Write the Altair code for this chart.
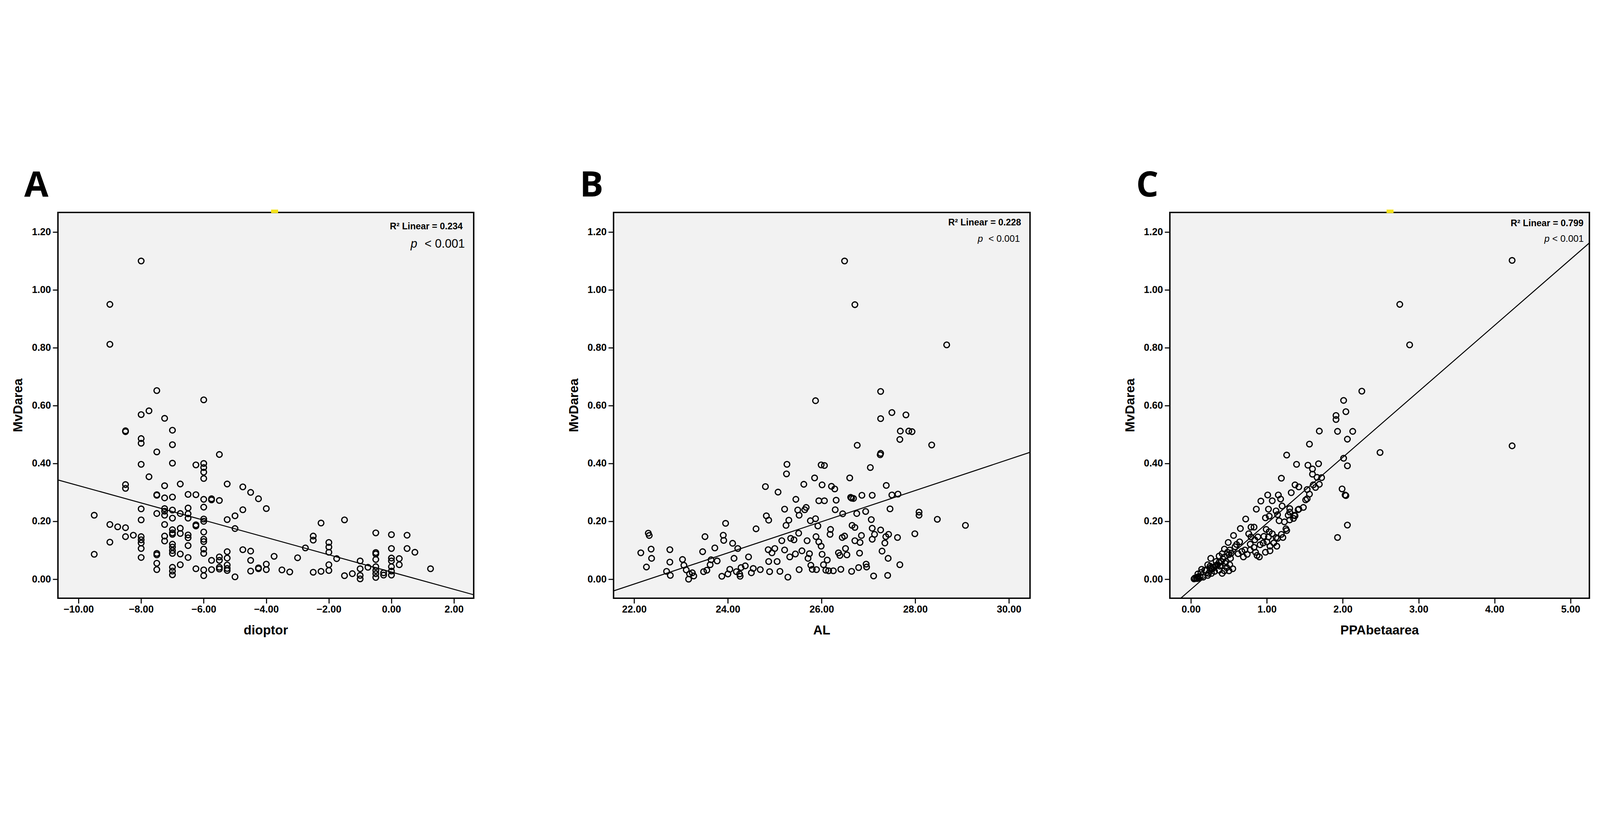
import altair as alt
import pandas as pd

# ---------------- data ----------------
# Panel A: dioptor vs MvDarea
a_dioptor = (
    [-9.5] * 2 + [-9.0] * 4 + [-8.75] + [-8.5] * 6 + [-8.25] + [-8.0] * 12 + [-7.75] * 2
    + [-7.5] * 9 + [-7.25] * 9 + [-7.0] * 16 + [-6.75] * 6 + [-6.5] * 8 + [-6.25] * 5
    + [-6.0] * 16 + [-5.75] * 4 + [-5.5] * 6 + [-5.25] * 7 + [-5.0] * 3 + [-4.75] * 3
    + [-4.5] * 4 + [-4.25] * 3 + [-4.0] * 3 + [-3.75] + [-3.5] + [-3.25] + [-3.0] + [-2.75]
    + [-2.5] * 3 + [-2.25] * 2 + [-2.0] * 5 + [-1.75] + [-1.5] * 2 + [-1.25] + [-1.0] * 4
    + [-0.75] + [-0.5] * 8 + [-0.25] * 2 + [0.0] * 7 + [0.25] * 2 + [0.5] * 2 + [0.75] + [1.25]
)
a_mvdarea = [
    0.221, 0.086,
    0.950, 0.812, 0.189, 0.128,
    0.181,
    0.513, 0.510, 0.327, 0.314, 0.178, 0.147,
    0.152,
    1.100, 0.569, 0.486, 0.470, 0.397, 0.243, 0.205, 0.147, 0.136, 0.125, 0.106, 0.075,
    0.582, 0.354,
    0.652, 0.440, 0.292, 0.290, 0.227, 0.089, 0.084, 0.055, 0.033,
    0.556, 0.323, 0.281, 0.244, 0.235, 0.221, 0.189, 0.149, 0.132,
    0.515, 0.465, 0.401, 0.284, 0.239, 0.211, 0.171, 0.160, 0.155, 0.121, 0.111, 0.099, 0.089, 0.041, 0.028, 0.015,
    0.329, 0.227, 0.176, 0.158, 0.087, 0.050,
    0.293, 0.246, 0.226, 0.211, 0.153, 0.143, 0.116, 0.075,
    0.395, 0.292, 0.188, 0.184, 0.036,
    0.620, 0.400, 0.386, 0.370, 0.348, 0.276, 0.249, 0.208, 0.200, 0.163, 0.138, 0.130, 0.104, 0.089, 0.032, 0.012,
    0.278, 0.274, 0.065, 0.033,
    0.431, 0.272, 0.077, 0.065, 0.041, 0.035,
    0.329, 0.206, 0.095, 0.073, 0.049, 0.037, 0.030,
    0.219, 0.175, 0.008,
    0.319, 0.240, 0.102,
    0.300, 0.097, 0.065, 0.028,
    0.278, 0.039, 0.036,
    0.244, 0.052, 0.033,
    0.079, 0.032, 0.025, 0.074, 0.108,
    0.149, 0.135, 0.024,
    0.194, 0.027,
    0.127, 0.111, 0.093, 0.050, 0.030,
    0.071,
    0.205, 0.012,
    0.019,
    0.063, 0.036, 0.013, 0.001,
    0.041,
    0.160, 0.092, 0.087, 0.068, 0.043, 0.030, 0.019, 0.006,
    0.022, 0.014,
    0.154, 0.106, 0.073, 0.063, 0.043, 0.028, 0.014,
    0.071, 0.050,
    0.152, 0.106,
    0.093,
    0.036,
]

# Panel B: AL vs MvDarea
b_al = [
    22.14, 22.26, 22.30, 22.32, 22.36, 22.37, 22.69, 22.76, 22.76, 22.77, 23.03, 23.06, 23.11, 23.16,
    23.18, 23.24, 23.27, 23.46, 23.48, 23.51, 23.55, 23.62, 23.64, 23.72, 23.77, 23.87, 23.90, 23.91,
    23.95, 24.00, 24.04, 24.10, 24.13, 24.18, 24.21, 24.25, 24.26, 24.28, 24.37, 24.44, 24.50, 24.54,
    24.60, 24.69, 24.80, 24.82, 24.86, 24.87, 24.87, 24.89, 24.94, 25.00, 25.05, 25.07, 25.11, 25.15,
    25.21, 25.21, 25.24, 25.26, 25.25, 25.28, 25.30, 25.32, 25.34, 25.41, 25.44, 25.45, 25.51, 25.49,
    25.52, 25.52, 25.58, 25.62, 25.64, 25.67, 25.69, 25.71, 25.74, 25.76, 25.77, 25.80, 25.85, 25.87,
    25.87, 25.88, 25.89, 25.92, 25.94, 25.94, 25.99, 25.99, 26.01, 26.01, 26.04, 26.06, 26.06, 26.09,
    26.12, 26.15, 26.18, 26.19, 26.21, 26.25, 26.28, 26.29, 26.31, 26.36, 26.39, 26.41, 26.44, 26.49,
    26.45, 26.49, 26.51, 26.54, 26.60, 26.62, 26.64, 26.64, 26.65, 26.68, 26.71, 26.71, 26.71, 26.75,
    26.76, 26.79, 26.81, 26.82, 26.85, 26.86, 26.94, 26.95, 26.96, 27.04, 27.06, 27.08, 27.08, 27.08,
    27.11, 27.13, 27.26, 27.25, 27.26, 27.26, 27.26, 27.29, 27.35, 27.37, 27.38, 27.42, 27.41, 27.43,
    27.46, 27.50, 27.63, 27.62, 27.67, 27.67, 27.50, 27.68, 27.80, 27.86, 27.93, 27.99, 28.08, 28.08,
    28.35, 28.47, 28.67, 29.07,
]
b_mvdarea = [
    0.091, 0.042, 0.159, 0.151, 0.104, 0.072, 0.027, 0.102, 0.059, 0.013, 0.068, 0.048, 0.032, 0.000,
    0.018, 0.022, 0.011, 0.095, 0.026, 0.147, 0.031, 0.050, 0.067, 0.108, 0.063, 0.010, 0.152, 0.134,
    0.193, 0.018, 0.034, 0.124, 0.072, 0.026, 0.106, 0.018, 0.010, 0.040, 0.046, 0.077, 0.022, 0.037,
    0.174, 0.033, 0.320, 0.219, 0.102, 0.204, 0.061, 0.026, 0.091, 0.106, 0.061, 0.301, 0.027, 0.133,
    0.101, 0.242, 0.186, 0.397, 0.364, 0.007, 0.204, 0.077, 0.141, 0.136, 0.087, 0.276, 0.159, 0.239,
    0.221, 0.033, 0.098, 0.328, 0.240, 0.248, 0.133, 0.072, 0.088, 0.202, 0.048, 0.034, 0.350, 0.209,
    0.617, 0.147, 0.033, 0.184, 0.129, 0.271, 0.114, 0.395, 0.326, 0.086, 0.050, 0.271, 0.393, 0.031,
    0.066, 0.029, 0.155, 0.172, 0.321, 0.029, 0.312, 0.240, 0.273, 0.091, 0.082, 0.034, 0.144, 1.100,
    0.226, 0.149, 0.106, 0.084, 0.350, 0.283, 0.280, 0.027, 0.186, 0.279, 0.949, 0.179, 0.133, 0.227,
    0.463, 0.040, 0.090, 0.127, 0.151, 0.290, 0.234, 0.052, 0.042, 0.386, 0.206, 0.290, 0.176, 0.138,
    0.011, 0.155, 0.435, 0.430, 0.649, 0.555, 0.170, 0.097, 0.125, 0.147, 0.324, 0.072, 0.013, 0.155,
    0.243, 0.291, 0.294, 0.144, 0.483, 0.050, 0.576, 0.512, 0.568, 0.512, 0.510, 0.157, 0.232, 0.221,
    0.464, 0.207, 0.810, 0.186,
]

# Panel C: PPAbetaarea vs MvDarea
c_ppa = [
    4.23, 2.75, 2.88, 4.23, 2.25, 2.01, 2.04, 1.91, 1.91, 1.93, 1.69, 2.13, 2.06, 2.49, 1.56, 1.26,
    2.01, 1.39, 1.54, 1.68, 2.06, 1.60, 1.60, 1.66, 1.61, 1.19, 1.37, 1.42, 1.53, 1.32, 1.99, 2.03,
    2.04, 1.01, 0.92, 1.07, 1.15, 1.18, 1.20, 1.41, 0.86, 1.02, 1.03, 1.12, 1.14, 1.30, 1.28, 1.36,
    1.37, 0.98, 1.16, 1.23, 1.25, 1.26, 1.19, 0.72, 0.65, 0.79, 0.83, 0.99, 1.03, 1.07, 1.12, 1.13,
    0.96, 1.02, 0.88, 0.91, 0.95, 1.00, 0.76, 0.79, 0.84, 0.78, 0.56, 0.64, 0.58, 0.51, 0.67, 0.71,
    0.78, 0.74, 0.85, 0.83, 1.93, 2.06, 0.49, 0.44, 0.48, 0.41, 0.37, 0.44, 0.52, 0.51, 0.46, 0.55,
    0.37, 0.33, 0.26, 0.33, 0.22, 0.26, 0.18, 0.14, 0.13, 0.09, 0.05, 0.04, 0.08, 0.16, 0.22, 0.27,
    0.31, 0.37, 0.41, 0.44, 0.50, 0.60, 0.62, 0.69, 0.87, 0.90, 0.98, 1.04, 1.04, 1.09, 1.14, 1.21,
    1.30, 1.35, 1.42, 1.48, 1.51, 1.53, 1.56, 1.64, 1.69, 1.72, 1.30,
    0.07, 0.09, 0.10, 0.12, 0.20, 0.23, 0.25, 0.28, 0.30, 0.35, 0.38, 0.40, 0.42, 0.45, 0.47, 0.50, 0.53,
]
c_mvdarea = [
    1.102, 0.950, 0.810, 0.461, 0.650, 0.618, 0.579, 0.566, 0.552, 0.511, 0.512, 0.511, 0.484, 0.438, 0.467, 0.429,
    0.418, 0.397, 0.394, 0.399, 0.392, 0.381, 0.363, 0.352, 0.326, 0.349, 0.326, 0.319, 0.278, 0.299, 0.312, 0.291,
    0.289, 0.291, 0.270, 0.271, 0.291, 0.277, 0.253, 0.240, 0.242, 0.242, 0.218, 0.236, 0.223, 0.244, 0.221, 0.221,
    0.219, 0.212, 0.202, 0.198, 0.174, 0.168, 0.155, 0.208, 0.175, 0.180, 0.180, 0.172, 0.164, 0.157, 0.144, 0.114,
    0.148, 0.146, 0.146, 0.119, 0.125, 0.129, 0.157, 0.146, 0.136, 0.121, 0.151, 0.129, 0.112, 0.101, 0.096, 0.101,
    0.101, 0.086, 0.093, 0.110, 0.144, 0.187, 0.127, 0.104, 0.093, 0.088, 0.080, 0.077, 0.072, 0.050, 0.061, 0.036,
    0.058, 0.061, 0.072, 0.048, 0.050, 0.040, 0.031, 0.034, 0.023, 0.018, 0.004, 0.001, 0.002, 0.007, 0.013, 0.020,
    0.027, 0.031, 0.020, 0.029, 0.029, 0.120, 0.088, 0.077, 0.082, 0.077, 0.093, 0.114, 0.098, 0.125, 0.141, 0.144,
    0.205, 0.210, 0.242, 0.248, 0.274, 0.310, 0.294, 0.317, 0.328, 0.351, 0.232,
    0.005, 0.008, 0.003, 0.010, 0.030, 0.020, 0.045, 0.035, 0.040, 0.050, 0.045, 0.060, 0.070, 0.055, 0.040, 0.085, 0.090,
]

# fitted lines (intercept, slope) and drawn x-extent
fit_a = (0.0246, -0.02987)
fit_b = (-1.2024, 0.05389)
fit_c = (-0.0351, 0.2282)
line_x_a = [-10.66, 2.63]
line_x_b = [21.558, 30.449]
line_x_c = [-0.135, 5.248]

y_ticks = [0.0, 0.2, 0.4, 0.6, 0.8, 1.0, 1.2]
a_ticks = [-10, -8, -6, -4, -2, 0, 2]
b_ticks = [22, 24, 26, 28, 30]
c_ticks = [0, 1, 2, 3, 4, 5]

panel_letters = ["A", "B", "C"]
x_titles = ["dioptor", "AL", "PPAbetaarea"]
y_title = "MvDarea"
r2_texts = ["R\u00b2 Linear = 0.234", "R\u00b2 Linear = 0.228", "R\u00b2 Linear = 0.799"]
p_text = "< 0.001"

# ---------------- chart building ----------------
Y_DOMAIN = [-0.066, 1.268]
H = 1647
FONT = "Liberation Sans"


def text_layer(txt, x, y, **kw):
    return alt.Chart(pd.DataFrame({"t": [txt]})).mark_text(color="black", **kw).encode(
        text="t:N", x=alt.value(x), y=alt.value(y))


def speck_layer(x0):
    # small yellow speck sitting on the top frame line (present in the source image)
    return alt.Chart(pd.DataFrame({"k": [1]})).mark_rect(color="#F4E21A").encode(
        x=alt.value(x0), x2=alt.value(x0 + 30), y=alt.value(-12), y2=alt.value(3))


def panel(xs, ys, xname, xdomain, xticks, fit, line_x, letter, r2, w, lay, speck=None):
    df = pd.DataFrame({"x": xs, "y": ys})
    xenc = alt.X("x:Q", title=None,
                 scale=alt.Scale(domain=xdomain, nice=False, zero=False),
                 axis=alt.Axis(values=xticks, format=".2f", labelPadding=6))
    yenc = alt.Y("y:Q", title=None,
                 scale=alt.Scale(domain=Y_DOMAIN, nice=False, zero=False),
                 axis=alt.Axis(values=y_ticks, format=".2f", labelPadding=8))
    pts = alt.Chart(df).mark_point(shape="circle", filled=False, color="black",
                                   size=580, strokeWidth=5.2, opacity=1).encode(x=xenc, y=yenc)
    b0, b1 = fit
    ldf = pd.DataFrame({"x": line_x, "y": [b0 + b1 * v for v in line_x]})
    line = alt.Chart(ldf).mark_line(color="black", strokeWidth=4.2).encode(x=xenc, y=yenc)

    letter_l = text_layer(letter, -144, -68, font="Open Sans", fontSize=150, fontWeight="bold",
                          align="left", baseline="alphabetic")
    xt_l = text_layer(xname, w / 2, H + 137, font=FONT, fontSize=55, fontWeight="bold",
                      align="center", baseline="middle")
    yt_l = text_layer(y_title, -169, H / 2, font=FONT, fontSize=55, fontWeight="bold",
                      align="center", baseline="middle", angle=270)
    r2_l = text_layer(r2, w - lay["r2dx"], lay["r2y"], font=FONT, fontSize=39, fontWeight="bold",
                      align="right", baseline="middle")
    p_l = text_layer("p", w - lay["pdx"], lay["py"], font=FONT, fontSize=lay["psize"],
                     fontStyle="italic", align="right", baseline="middle")
    lt_l = text_layer(p_text, w - lay["ltdx"], lay["py"], font=FONT, fontSize=lay["psize"],
                      align="right", baseline="middle")

    layers = [pts, line, letter_l, xt_l, yt_l, r2_l, p_l, lt_l]
    if speck is not None:
        layers.append(speck_layer(speck))
    return alt.layer(*layers).properties(width=w, height=H)


lay_a = dict(r2dx=47, r2y=60, psize=51, pdx=241, ltdx=38, py=135)
lay_b = dict(r2dx=38, r2y=44, psize=40, pdx=201, ltdx=43, py=113)
lay_c = dict(r2dx=25, r2y=47, psize=40, pdx=170, ltdx=24, py=113)

chart_a = panel(a_dioptor, a_mvdarea, x_titles[0], [-10.66, 2.63], a_ticks, fit_a, line_x_a,
                panel_letters[0], r2_texts[0], 1775, lay_a, speck=910)
chart_b = panel(b_al, b_mvdarea, x_titles[1], [21.558, 30.449], b_ticks, fit_b, line_x_b,
                panel_letters[1], r2_texts[1], 1778, lay_b)
chart_c = panel(c_ppa, c_mvdarea, x_titles[2], [-0.279, 5.248], c_ticks, fit_c, line_x_c,
                panel_letters[2], r2_texts[2], 1791, lay_c, speck=925)

chart = alt.hconcat(chart_a, chart_b, chart_c, spacing=386).properties(
    padding={"left": 35, "top": 22, "right": 20, "bottom": 10},
    background="white",
).configure_view(
    fill="#F2F2F2", stroke="black", strokeWidth=6
).configure_axis(
    labelFont=FONT, labelFontSize=42, labelFontWeight="bold", labelColor="black",
    labelFlush=False, labelOverlap=False,
    tickColor="black", tickWidth=4.5, tickSize=22,
    domain=False, grid=False,
)

chart.save("out.html", embed_options={"renderer": "svg", "actions": False})
